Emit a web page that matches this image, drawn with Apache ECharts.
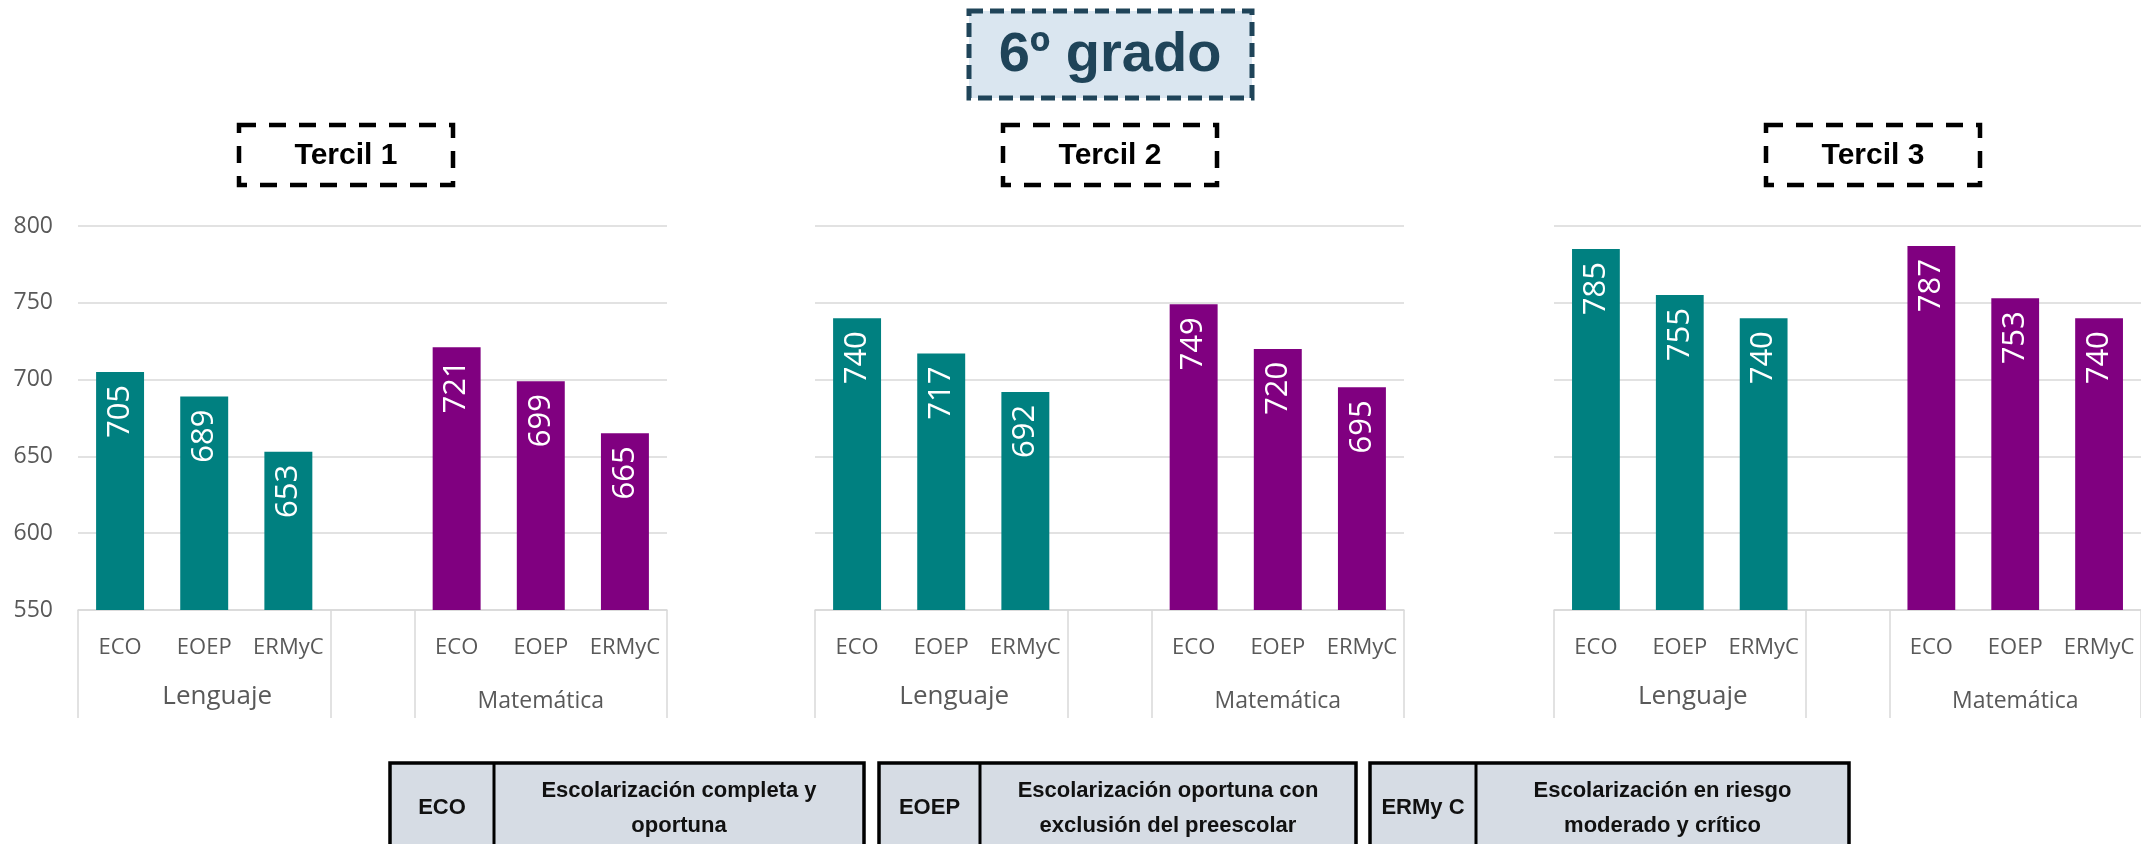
<!DOCTYPE html>
<html>
<head>
<meta charset="utf-8">
<script src="https://cdn.jsdelivr.net/npm/echarts@6/dist/echarts.min.js"></script>
<style>
html, body { margin: 0; padding: 0; background: #fff; }
#chart { width: 2141px; height: 844px; }
</style>
</head>
<body>
<div id="chart"></div>
<script>
// categorias (hueco en el medio entre Lenguaje y Matematica)
var categories = ['ECO', 'EOEP', 'ERMyC', '', 'ECO', 'EOEP', 'ERMyC'];
var groupLabels = ['', 'Lenguaje', '', '', '', 'Matemática', ''];
var terciles = ['Tercil 1', 'Tercil 2', 'Tercil 3'];
var yTicks = [550, 600, 650, 700, 750, 800];

var lenguajeT1 = [705, 689, 653];
var matematicaT1 = [721, 699, 665];
var lenguajeT2 = [740, 717, 692];
var matematicaT2 = [749, 720, 695];
var lenguajeT3 = [785, 755, 740];
var matematicaT3 = [787, 753, 740];

var legendCodes = ['ECO', 'EOEP', 'ERMy C'];
var legendTexts = [
    'Escolarización completa y\noportuna',
    'Escolarización oportuna con\nexclusión del preescolar',
    'Escolarización en riesgo\nmoderado y crítico'
];

var panels = [
    [lenguajeT1, matematicaT1],
    [lenguajeT2, matematicaT2],
    [lenguajeT3, matematicaT3]
];

var chart = echarts.init(document.getElementById('chart'));

var gridLeft = [78, 815, 1554];
var tercilBoxX = [239, 1003, 1766];
var legendBoxX = [390, 879, 1370];
var legendBoxW = [474, 477, 479];
var legendDivX = [494, 980, 1476];

var grids = [], xAxes = [], yAxes = [], series = [], graphics = [];

panels.forEach(function (p, i) {
    grids.push({left: gridLeft[i], top: 226, width: 589, height: 384});

    xAxes.push({
        gridIndex: i,
        type: 'category',
        position: 'bottom',
        data: categories,
        axisLine: {lineStyle: {color: '#d9d9d9', width: 1.5}},
        axisTick: {
            show: true,
            length: 108,
            interval: function (idx) { return idx === 0 || idx === 3 || idx === 4; },
            lineStyle: {color: '#d9d9d9', width: 1.5}
        },
        axisLabel: {interval: 0, margin: 27, fontSize: 22, color: '#595959', fontFamily: 'Open Sans'}
    });
    xAxes.push({
        gridIndex: i,
        type: 'category',
        position: 'bottom',
        data: groupLabels,
        axisLine: {show: false},
        axisTick: {show: false},
        axisLabel: {
            interval: 0,
            margin: 74,
            color: '#595959',
            fontFamily: 'Open Sans',
            formatter: function (v) {
                if (v === 'Lenguaje') return '{l|' + v + '}';
                if (v === 'Matemática') return '{m|' + v + '}';
                return '';
            },
            rich: {
                l: {fontSize: 26, color: '#595959', fontFamily: 'Open Sans', padding: [0, 0, 0, 26]},
                m: {fontSize: 23, color: '#595959', fontFamily: 'Open Sans', padding: [6, 0, 0, 0]}
            }
        }
    });

    yAxes.push({
        gridIndex: i,
        type: 'value',
        min: yTicks[0],
        max: yTicks[yTicks.length - 1],
        interval: yTicks[1] - yTicks[0],
        axisLine: {show: false},
        axisTick: {show: false},
        axisLabel: {show: i === 0, fontSize: 23, color: '#595959', margin: 25, fontFamily: 'Open Sans'},
        splitLine: {lineStyle: {color: '#d9d9d9', width: 1.5}}
    });

    series.push({
        type: 'bar',
        xAxisIndex: i * 2,
        yAxisIndex: i,
        barWidth: '57%',
        data: p[0].concat(['-']).concat(p[1]),
        itemStyle: {
            color: function (params) {
                return params.dataIndex < 3 ? '#008080' : '#800080';
            }
        },
        label: {
            show: true,
            position: 'insideTop',
            rotate: 90,
            align: 'right',
            verticalAlign: 'middle',
            distance: 13,
            color: '#ffffff',
            fontSize: 31,
            fontFamily: 'Open Sans'
        }
    });

    // recuadro del tercil
    graphics.push({
        type: 'rect',
        shape: {x: tercilBoxX[i], y: 125, width: 214, height: 60},
        style: {fill: '#ffffff', stroke: '#000000', lineWidth: 4.5, lineDash: [17, 13]}
    });
    graphics.push({
        type: 'text',
        x: tercilBoxX[i] + 107,
        y: 156,
        style: {
            text: terciles[i],
            font: 'bold 30px "Liberation Sans"',
            fill: '#000000',
            align: 'center',
            verticalAlign: 'middle'
        }
    });

    // tabla de siglas
    graphics.push({
        type: 'rect',
        shape: {x: legendBoxX[i], y: 763, width: legendBoxW[i], height: 100},
        style: {fill: '#d6dce4', stroke: '#000000', lineWidth: 3.5}
    });
    graphics.push({
        type: 'line',
        shape: {x1: legendDivX[i], y1: 763, x2: legendDivX[i], y2: 844},
        style: {stroke: '#000000', lineWidth: 3}
    });
    graphics.push({
        type: 'text',
        x: (legendBoxX[i] + legendDivX[i]) / 2,
        y: 808,
        style: {
            text: legendCodes[i],
            font: 'bold 22px "Liberation Sans"',
            fill: '#111111',
            align: 'center',
            verticalAlign: 'middle'
        }
    });
    graphics.push({
        type: 'text',
        x: (legendDivX[i] + legendBoxX[i] + legendBoxW[i]) / 2,
        y: 808,
        style: {
            text: legendTexts[i],
            font: 'bold 22px "Liberation Sans"',
            lineHeight: 35,
            fill: '#111111',
            align: 'center',
            verticalAlign: 'middle'
        }
    });
});

// titulo
graphics.push({
    type: 'rect',
    shape: {x: 969, y: 11, width: 283, height: 87},
    style: {fill: '#dae6f0', stroke: '#1f4459', lineWidth: 5, lineDash: [14, 7]}
});
graphics.push({
    type: 'text',
    x: 1110,
    y: 56,
    style: {
        text: '6º grado',
        font: 'bold 56px "Liberation Sans"',
        fill: '#1f4459',
        align: 'center',
        verticalAlign: 'middle'
    }
});

chart.setOption({
    animation: false,
    grid: grids,
    xAxis: xAxes,
    yAxis: yAxes,
    series: series,
    graphic: graphics
});

window.onresize = function () {
    chart.resize();
};
</script>
</body>
</html>
